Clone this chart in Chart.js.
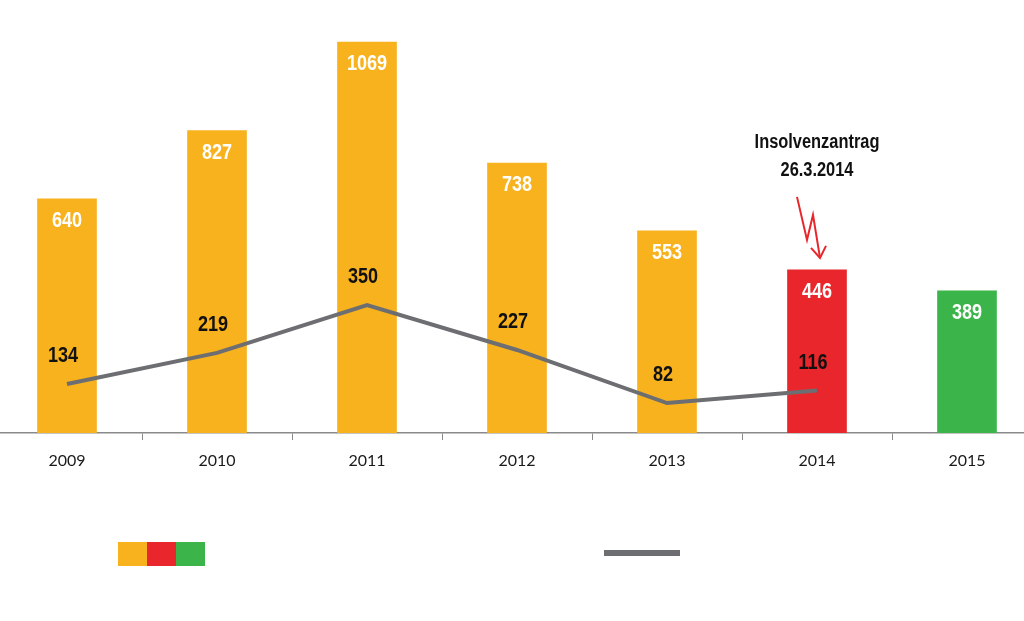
<!DOCTYPE html>
<html>
<head>
<meta charset="utf-8">
<script src="https://cdn.jsdelivr.net/npm/chart.js@4.4.0/dist/chart.umd.min.js"></script>
<style>
  html, body { margin: 0; padding: 0; background: #fff; overflow: hidden; }
  body { width: 1024px; height: 621px; position: relative; }
  #wrap { position: absolute; left: -8px; top: 0; width: 1050px; height: 621px; }
</style>
</head>
<body>
<div id="wrap"><canvas id="grafico" width="1050" height="621"></canvas></div>
<script>
// Datos del gráfico
const jahre = ['2009', '2010', '2011', '2012', '2013', '2014', '2015'];
const balken = [640, 827, 1069, 738, 553, 446, 389];
const linie = [134, 219, 350, 227, 82, 116, null];
const balkenFarben = ['#F7B21E', '#F7B21E', '#F7B21E', '#F7B21E', '#F7B21E', '#E8262B', '#3BB54A'];
const notizText = ['Insolvenzantrag', '26.3.2014'];
const notizIndex = 5;

const zahlFont = '"Liberation Sans", Arial, sans-serif';

// Texto estrecho (tipo Arial Narrow) escalando en horizontal
function schmal(ctx, text, x, y, size, color) {
  ctx.save();
  ctx.font = 'bold ' + size + 'px ' + zahlFont;
  ctx.fillStyle = color;
  ctx.textAlign = 'center';
  ctx.textBaseline = 'middle';
  ctx.translate(x, y);
  ctx.scale(0.82, 1);
  ctx.fillText(text, 0, 0);
  ctx.restore();
}

// Etiquetas de valores, anotación y leyenda
const extras = {
  id: 'extras',
  afterDatasetsDraw(chart) {
    const ctx = chart.ctx;
    const lineMeta = chart.getDatasetMeta(0);
    const barMeta = chart.getDatasetMeta(1);

    barMeta.data.forEach((bar, i) => {
      schmal(ctx, String(balken[i]), bar.x, bar.y + 22, 22, '#ffffff');
    });

    lineMeta.data.forEach((pt, i) => {
      if (linie[i] === null) return;
      schmal(ctx, String(linie[i]), pt.x - 4, pt.y - 28, 22, '#111111');
    });

    // Anotación sobre la barra roja
    const ziel = barMeta.data[notizIndex];
    const cx = ziel.x;
    const top = ziel.y;
    schmal(ctx, notizText[0], cx, top - 127, 20, '#111111');
    schmal(ctx, notizText[1], cx, top - 99, 20, '#111111');

    // Rayo rojo
    ctx.save();
    ctx.strokeStyle = '#E8262B';
    ctx.lineWidth = 2;
    ctx.beginPath();
    ctx.moveTo(cx - 20, top - 73);
    ctx.lineTo(cx - 10, top - 30);
    ctx.lineTo(cx - 4, top - 55);
    ctx.lineTo(cx + 3, top - 12);
    ctx.stroke();
    ctx.beginPath();
    ctx.moveTo(cx - 6, top - 22);
    ctx.lineTo(cx + 3, top - 12);
    ctx.lineTo(cx + 9, top - 24);
    ctx.stroke();

    // Leyenda sin texto
    const lx = 126;
    [0, 5, 6].forEach((k, j) => {
      ctx.fillStyle = balkenFarben[k];
      ctx.fillRect(lx + j * 29, 542, 29, 24);
    });
    ctx.fillStyle = '#6D6E71';
    ctx.fillRect(612, 550, 76, 6);
    ctx.restore();
  }
};

const grafico = new Chart(document.getElementById('grafico').getContext('2d'), {
  data: {
    labels: jahre,
    datasets: [
      {
        type: 'line',
        data: linie,
        borderColor: '#6D6E71',
        borderWidth: 4,
        pointRadius: 0,
        tension: 0,
        fill: false,
        order: 0
      },
      {
        type: 'bar',
        data: balken,
        backgroundColor: balkenFarben,
        barThickness: 59,
        order: 1
      }
    ]
  },
  options: {
    responsive: false,
    animation: false,
    layout: { padding: 0 },
    plugins: {
      legend: { display: false },
      tooltip: { enabled: false }
    },
    scales: {
      x: {
        offset: true,
        grid: {
          offset: true,
          drawOnChartArea: false,
          drawTicks: true,
          tickLength: 7,
          color: '#8a8a8a'
        },
        border: { display: true, color: '#8a8a8a', width: 1.5 },
        ticks: {
          padding: 11,
          color: '#1a1a1a',
          font: { family: 'Lato, "Open Sans", sans-serif', size: 16 }
        },
        afterFit(scale) { scale.height = 188; }
      },
      y: {
        display: false,
        min: 0,
        max: 1184
      }
    }
  },
  plugins: [extras]
});
</script>
</body>
</html>
